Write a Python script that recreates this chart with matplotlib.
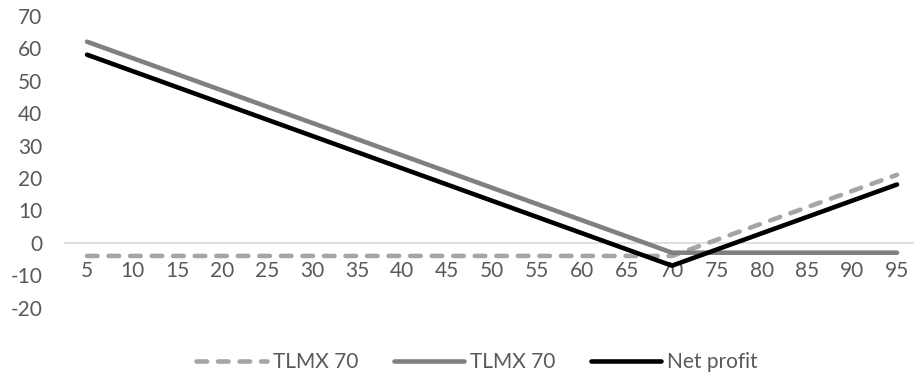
import matplotlib.pyplot as plt

# option payoff data
strikes = [5, 10, 15, 20, 25, 30, 35, 40, 45, 50, 55, 60, 65, 70, 75, 80, 85, 90, 95]
call_70 = [-4, -4, -4, -4, -4, -4, -4, -4, -4, -4, -4, -4, -4, -4, 1, 6, 11, 16, 21]
put_70 = [62, 57, 52, 47, 42, 37, 32, 27, 22, 17, 12, 7, 2, -3, -3, -3, -3, -3, -3]
net_profit = [58, 53, 48, 43, 38, 33, 28, 23, 18, 13, 8, 3, -2, -7, -2, 3, 8, 13, 18]
series_names = ["TLMX 70", "TLMX 70", "Net profit"]

plt.rcParams['font.family'] = ['Lato', 'DejaVu Sans']
plt.rcParams['axes.unicode_minus'] = False
txt_color = '#595959'
fs = 15

fig = plt.figure(figsize=(9.14, 3.75), dpi=100)
ax = fig.add_axes([0.0706, 0.179, 0.9354, 0.779])

xs = list(range(len(strikes)))
ax.plot(xs, call_70, color='#A5A5A5', lw=3.3, dashes=(2.3, 2.4),
        dash_capstyle='round', solid_capstyle='round', label=series_names[0])
ax.plot(xs, put_70, color='#808080', lw=3.3, solid_capstyle='round',
        label=series_names[1])
ax.plot(xs, net_profit, color='black', lw=3.3, solid_capstyle='round',
        label=series_names[2])

ax.set_xlim(-0.5, len(strikes) - 0.5)
ax.set_ylim(-20, 70)
ax.set_yticks(range(-20, 71, 10))
ax.set_xticks(xs)
ax.set_xticklabels([str(s) for s in strikes])

for side in ['top', 'right', 'left']:
    ax.spines[side].set_visible(False)
ax.spines['bottom'].set_position(('data', 0))
ax.spines['bottom'].set_color('#D9D9D9')
ax.spines['bottom'].set_linewidth(1.2)
ax.spines['bottom'].set_zorder(0)

ax.tick_params(axis='x', length=0, pad=13, labelsize=fs, labelcolor=txt_color)
ax.tick_params(axis='y', length=0, pad=16, labelsize=fs, labelcolor=txt_color)

# Excel puts the legend a little right of centre
fig.legend(loc='lower center', bbox_to_anchor=(0.522, -0.042), ncol=3, frameon=False,
           fontsize=fs, labelcolor=txt_color, handlelength=3.37,
           handletextpad=0.3, columnspacing=1.7)

fig.savefig('out.png', dpi=100)
